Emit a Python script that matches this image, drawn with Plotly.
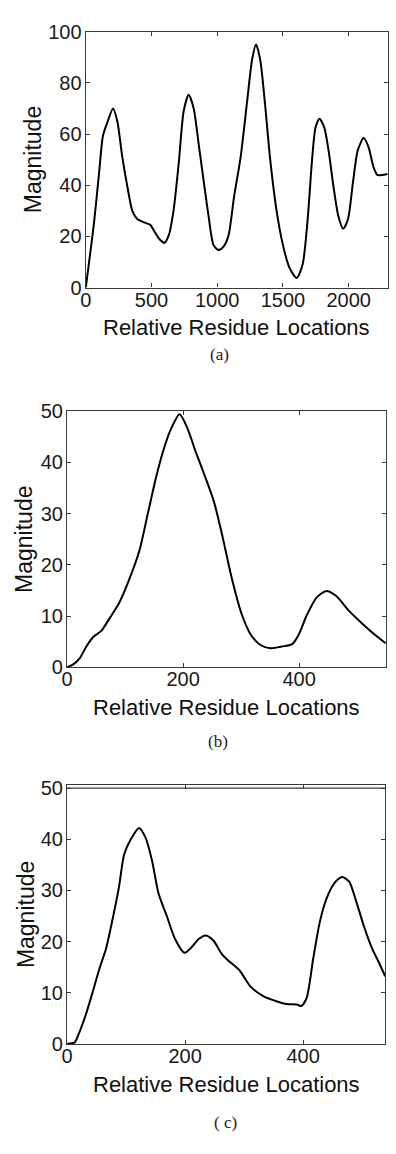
import plotly.graph_objects as go

W, H = 396, 1154

# ---- data panel (a)
xa = [0, 63, 101, 131, 164, 207, 240, 278, 316, 354, 391, 442, 492, 518, 556, 598, 631, 669, 707, 745,
      783, 821, 859, 896, 934, 972, 1010, 1048, 1086, 1129, 1178, 1228, 1265, 1295, 1327, 1364, 1401,
      1450, 1500, 1550, 1604, 1649, 1686, 1723, 1748, 1777, 1814, 1847, 1884, 1921, 1958, 1995, 2032,
      2069, 2114, 2151, 2188, 2218, 2255, 2295]
ya = [0, 25.5, 44.7, 59.4, 64.5, 70, 65, 51, 39.6, 30, 26.8, 25.5, 24.5, 22.3, 19.2, 17.5, 20.4, 30.6, 48.5, 69,
      75.3, 70, 56, 42, 28, 16.6, 14.7, 16, 20.4, 35.8, 51, 73, 89, 95, 89, 71.5, 51,
      30.6, 16.6, 7.7, 3.8, 8.9, 25.5, 51, 62.6, 66, 62.6, 53.6, 39.6, 28, 23, 26.8, 40.9,
      53.6, 58.4, 54.9, 47.2, 44, 44, 44.4]

# ---- data panel (b)
xb = [0, 10, 22, 33, 45, 59, 73, 90, 107, 125, 139, 153, 165, 179, 194, 207, 222, 239, 253, 267,
      283, 300, 317, 334, 351, 368, 388, 399, 413, 430, 447, 464, 486, 509, 531, 549]
yb = [0, 0.5, 1.8, 4, 5.9, 7.1, 9.5, 12.6, 17.1, 22.9, 29.9, 36.9, 42, 46.5, 49.4, 46.8, 42, 36.9, 32.4, 26,
      17.8, 10.7, 6.3, 4.3, 3.7, 4, 4.5, 6.3, 10.1, 13.6, 14.9, 13.9, 11, 8.5, 6.3, 4.7]

# ---- data panel (c)
xc = [0, 12.8, 19.6, 32, 43.6, 54.8, 66, 77, 88, 96.7, 108, 122, 133, 144, 155, 169, 183, 199, 211, 223,
      235, 248, 262, 273, 292, 311, 333, 356, 372, 389, 397, 406, 417, 428, 439, 453, 466, 478,
      489, 503, 517, 528, 539]
yc = [0, 0.3, 1.9, 5.8, 10.2, 14.7, 18.6, 24.3, 30.7, 37, 40, 42.2, 40.3, 35.8, 29.4, 25, 20.5, 17.8, 18.9, 20.5,
      21.2, 20.2, 17.6, 16.3, 14.4, 11.2, 9.3, 8.3, 7.8, 7.7, 7.4, 9, 16.6, 23.7, 28.2, 31.4, 32.6, 31.7,
      28.2, 23, 18.6, 16, 13.2]

x_ticks_a = [0, 500, 1000, 1500, 2000]
y_ticks_a = [0, 20, 40, 60, 80, 100]
x_ticks_bc = [0, 200, 400]
y_ticks_bc = [0, 10, 20, 30, 40, 50]

x_title = "Relative Residue Locations"
y_title = "Magnitude"
captions = ["(a)", "(b)", "( c)"]

# panel boxes in pixels: (left, right, top, bottom)
boxes = [(81, 388, 21, 282), (62, 386, 408, 669), (62, 385, 789, 1053)]
ranges_x = [[0, 2300], [0, 550], [0, 539]]
ranges_y = [[0, 100], [0, 50], [0, 50.6]]

def px(x):
    return x / W

def py(y):
    return 1 - y / H

fig = go.Figure()
series = [(xa, ya), (xb, yb), (xc, yc)]
for i, (xs, ys) in enumerate(series):
    suf = "" if i == 0 else str(i + 1)
    fig.add_trace(go.Scatter(x=xs, y=ys, mode="lines", xaxis="x" + suf, yaxis="y" + suf,
                             line=dict(color="black", width=2, shape="spline", smoothing=0.7),
                             showlegend=False, hoverinfo="skip"))

axis_common = dict(showgrid=False, zeroline=False, showline=True, linecolor="#3a3a3a", linewidth=1.3,
                   mirror="ticks", ticks="inside", ticklen=4, tickcolor="#3a3a3a", tickwidth=1,
                   tickfont=dict(family="Liberation Sans, Arial", size=20, color="#1a1a1a"))

layout = dict(width=W, height=H, margin=dict(l=0, r=0, t=0, b=0),
              paper_bgcolor="white", plot_bgcolor="white", showlegend=False)

annotations = []
shapes = []
for i, (l, r, t, b) in enumerate(boxes):
    suf = "" if i == 0 else str(i + 1)
    xt = x_ticks_a if i == 0 else x_ticks_bc
    yt = y_ticks_a if i == 0 else y_ticks_bc
    layout["xaxis" + suf] = dict(axis_common, domain=[px(l), px(r)], range=ranges_x[i],
                                 anchor="y" + suf, tickvals=xt, ticklabelstandoff=-6)
    layout["yaxis" + suf] = dict(axis_common, domain=[py(b), py(t)], range=ranges_y[i],
                                 anchor="x" + suf, tickvals=yt, ticklabelstandoff=-1)
    # x title
    annotations.append(dict(text=x_title, xref="paper", yref="paper", x=px((l + r) / 2),
                            y=py(b + 41), xanchor="center", yanchor="middle", showarrow=False,
                            font=dict(family="Liberation Sans, Arial", size=22, color="#111")))
    # y title
    ycx = [27, 19, 21][i]
    annotations.append(dict(text=y_title, xref="paper", yref="paper", x=px(ycx),
                            y=py((t + b) / 2), xanchor="center", yanchor="middle", textangle=-90,
                            showarrow=False,
                            font=dict(family="Liberation Sans, Arial", size=23, color="#111")))
    cap_x = [217, 215, 223][i]
    cap_y = [350, 745, 1133][i]
    annotations.append(dict(text=captions[i], xref="paper", yref="paper", x=px(cap_x), y=py(cap_y),
                            xanchor="center", yanchor="middle", showarrow=False,
                            font=dict(family="Liberation Serif, Times New Roman", size=17, color="#222")))

# extra reference line at 50 in panel (c)
shapes.append(dict(type="line", xref="x3 domain", yref="y3", x0=0, x1=1, y0=50, y1=50,
                   line=dict(color="#3a3a3a", width=1.2)))

layout["annotations"] = annotations
layout["shapes"] = shapes
fig.update_layout(**layout)
fig.write_html("out.html")
